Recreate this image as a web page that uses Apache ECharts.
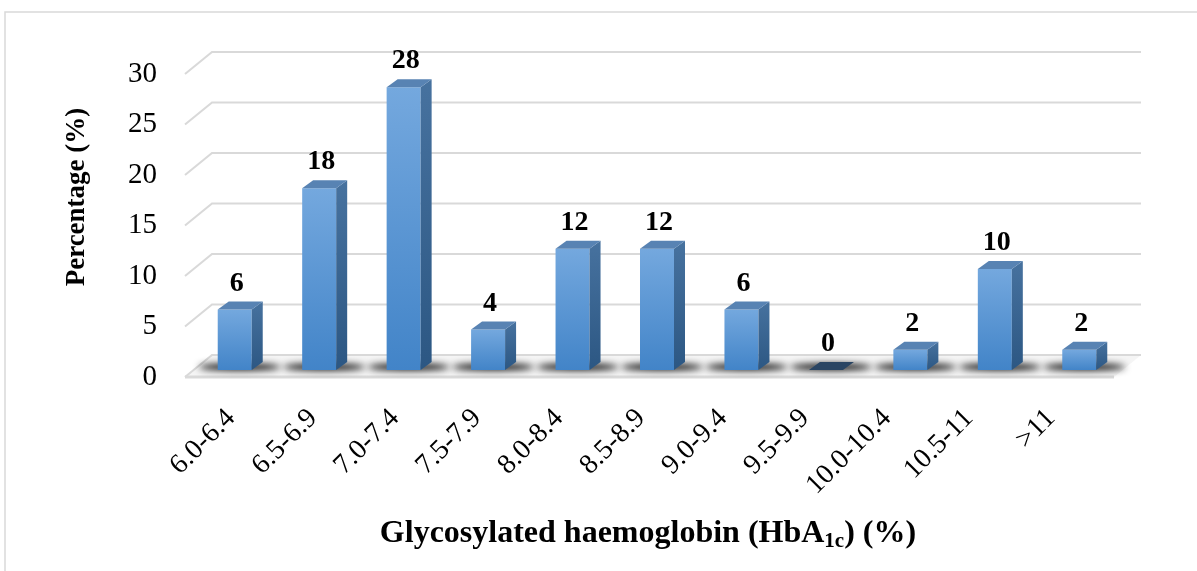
<!DOCTYPE html>
<html>
<head>
<meta charset="utf-8">
<script src="https://cdn.jsdelivr.net/npm/echarts@6/dist/echarts.min.js"></script>
<style>
  html, body { margin: 0; padding: 0; background: #ffffff; }
  #chart { width: 1197px; height: 571px; }
</style>
</head>
<body>
<div id="chart"></div>
<script>
// HbA1c ranges and share of patients in each range
const categories = ['6.0-6.4', '6.5-6.9', '7.0-7.4', '7.5-7.9', '8.0-8.4', '8.5-8.9', '9.0-9.4', '9.5-9.9', '10.0-10.4', '10.5-11', '>11'];
const percentages = [6, 18, 28, 4, 12, 12, 6, 0, 2, 10, 2];
const yTicks = [0, 5, 10, 15, 20, 25, 30];

const SERIF = '"Liberation Serif", "Times New Roman", serif';
const GRID_COLOR = '#d9d9d9';

// oblique "3D" offsets
const WALL_DX = 27, WALL_DY = -22;        // depth of the back wall
const BAR_SHIFT_X = 7.5, BAR_SHIFT_Y = -7; // bar front plane sits behind the floor edge
const BAR_HALF = 17, BAR_DX = 11, BAR_DY = -8;
const FAR = 4000;                          // shadows are cast from shapes drawn off-canvas

function renderWalls(params, api) {
  const cs = params.coordSys;
  const v = api.value(0);
  const y = api.coord([0, v])[1];
  const x0 = cs.x, x1 = cs.x + cs.width;
  const children = [];
  if (v === 0) {
    // floor plate
    children.push({
      type: 'polygon',
      shape: { points: [[x0, y], [x0 + WALL_DX, y + WALL_DY], [x1 + WALL_DX, y + WALL_DY], [x1, y]] },
      style: { fill: '#f5f5f5' }
    });
  }
  children.push({
    type: 'polyline',
    shape: { points: [[x0, y], [x0 + WALL_DX, y + WALL_DY], [x1 + WALL_DX, y + WALL_DY]] },
    style: { stroke: GRID_COLOR, lineWidth: 2, fill: null }
  });
  if (v === 0) {
    children.push({
      type: 'line',
      shape: { x1: x0, y1: y, x2: x1, y2: y },
      style: { stroke: GRID_COLOR, lineWidth: 3 }
    });
  }
  return { type: 'group', children: children };
}

function renderBar(params, api) {
  const idx = api.value(0);
  const v = api.value(1);
  const base = api.coord([idx, 0]);
  const top = api.coord([idx, v]);
  const cx = base[0] + BAR_SHIFT_X;
  const by = base[1] + BAR_SHIFT_Y;
  const ty = top[1] + BAR_SHIFT_Y;
  const x0 = cx - BAR_HALF, x1 = cx + BAR_HALF;
  const children = [];

  // soft floor shadow around the foot of the bar (only the blur is visible)
  children.push({
    type: 'ellipse',
    shape: { cx: cx + 5 - FAR, cy: by - 3, rx: BAR_HALF + 24, ry: 3.5 },
    style: {
      fill: '#000000',
      shadowBlur: 7,
      shadowOffsetX: FAR,
      shadowColor: 'rgba(0,0,0,0.95)'
    },
    z2: 0
  });

  if (v > 0) {
    children.push({
      type: 'rect',
      shape: { x: x0, y: ty, width: x1 - x0, height: by - ty },
      style: {
        fill: { type: 'linear', x: 0, y: 0, x2: 0, y2: 1,
          colorStops: [{ offset: 0, color: '#74a8de' }, { offset: 1, color: '#4284c8' }] }
      },
      z2: 2
    });
    children.push({
      type: 'polygon',
      shape: { points: [[x1, ty], [x1 + BAR_DX, ty + BAR_DY], [x1 + BAR_DX, by + BAR_DY], [x1, by]] },
      style: {
        fill: { type: 'linear', x: 0, y: 0, x2: 0, y2: 1,
          colorStops: [{ offset: 0, color: '#47729f' }, { offset: 1, color: '#2c5783' }] }
      },
      z2: 2
    });
    children.push({
      type: 'polygon',
      shape: { points: [[x0, ty], [x0 + BAR_DX, ty + BAR_DY], [x1 + BAR_DX, ty + BAR_DY], [x1, ty]] },
      style: { fill: '#5883b3' },
      z2: 3
    });
  } else {
    children.push({
      type: 'polygon',
      shape: { points: [[x0, ty], [x0 + BAR_DX, ty + BAR_DY], [x1 + BAR_DX, ty + BAR_DY], [x1, ty]] },
      style: { fill: '#2a4563' },
      z2: 3
    });
  }

  // value label above the bar
  children.push({
    type: 'text',
    style: {
      text: String(v),
      x: cx + 2,
      y: ty + BAR_DY - 18,
      align: 'center',
      verticalAlign: 'middle',
      font: 'bold 28px ' + SERIF,
      fill: '#000000'
    },
    z2: 4
  });

  return { type: 'group', children: children };
}

const chart = echarts.init(document.getElementById('chart'), null, { renderer: 'canvas' });

chart.setOption({
  backgroundColor: '#ffffff',
  animation: false,
  grid: [
    { left: 185, right: 83, top: 74, bottom: 194 },
    { left: 190, right: 105, top: 74, bottom: 194 }
  ],
  xAxis: [
    {
      type: 'category', gridIndex: 0, data: categories,
      axisLine: { show: false }, axisTick: { show: false }, axisLabel: { show: false }
    },
    {
      type: 'category', gridIndex: 1, data: categories,
      axisLine: { show: false }, axisTick: { show: false },
      axisLabel: { rotate: 45, margin: 37, fontSize: 28, fontFamily: SERIF, color: '#000000' },
      name: '{b|Glycosylated haemoglobin (HbA}{s|1c}{b|) (%)}',
      nameLocation: 'middle',
      nameGap: 134,
      nameTextStyle: {
        padding: [0, 0, 0, 14],
        rich: {
          b: { fontSize: 32, fontWeight: 'bold', fontFamily: SERIF, color: '#000000', lineHeight: 36 },
          s: { fontSize: 21, fontWeight: 'bold', fontFamily: SERIF, color: '#000000', verticalAlign: 'bottom', padding: [24, 0, 0, 0], lineHeight: 21 }
        }
      }
    }
  ],
  yAxis: [
    {
      type: 'value', gridIndex: 0, min: 0, max: 30, interval: 5,
      axisLine: { show: false }, axisTick: { show: false }, splitLine: { show: false },
      axisLabel: { margin: 28, fontSize: 29, fontFamily: SERIF, color: '#000000' }
    },
    { type: 'value', gridIndex: 1, min: 0, max: 30, show: false }
  ],
  graphic: [
    {
      type: 'rect', silent: true,
      shape: { x: 5, y: 12, width: 1200, height: 570 },
      style: { fill: null, stroke: GRID_COLOR, lineWidth: 1.5 }
    },
    {
      type: 'text', silent: true,
      x: 77, y: 197, rotation: Math.PI / 2,
      style: {
        text: 'Percentage (%)', font: 'bold 27px ' + SERIF, fill: '#000000',
        align: 'center', verticalAlign: 'middle'
      }
    }
  ],
  series: [
    {
      type: 'custom', xAxisIndex: 0, yAxisIndex: 0,
      renderItem: renderWalls,
      data: yTicks.map(function (t) { return [t]; }),
      encode: { x: -1, y: 0 },
      silent: true, z: 1
    },
    {
      type: 'custom', xAxisIndex: 0, yAxisIndex: 0,
      renderItem: renderBar,
      data: percentages.map(function (p, i) { return [i, p]; }),
      encode: { x: 0, y: 1 },
      silent: true, z: 2
    }
  ]
});
</script>
</body>
</html>
